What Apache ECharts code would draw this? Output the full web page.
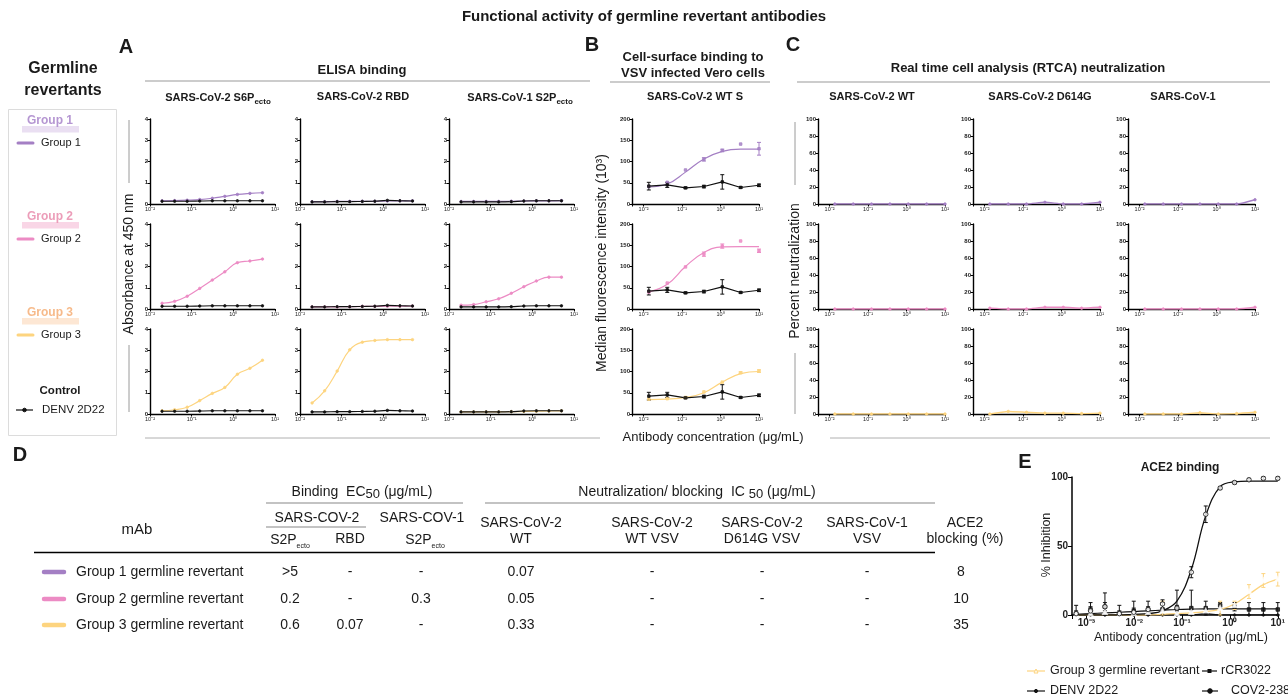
<!DOCTYPE html>
<html><head><meta charset="utf-8">
<script src="https://cdn.jsdelivr.net/npm/echarts@6/dist/echarts.min.js"></script>
<style>html,body{margin:0;padding:0;background:#fff}#c{width:1288px;height:696px}</style>
</head><body><div id="c"></div><script>
// ---------------- DATA ----------------
const logTickLabels = { '-3': '10⁻³', '-2': '10⁻²', '-1': '10⁻¹', '0': '10⁰', '1': '10¹' };

// Panel A: ELISA binding (absorbance at 450 nm), 2-fold dilutions (µg/mL)
const elisaConc = [0.0195, 0.039, 0.078, 0.156, 0.3125, 0.625, 1.25, 2.5, 5];
const elisaG1_S6P  = [0.15, 0.16, 0.18, 0.21, 0.27, 0.36, 0.45, 0.50, 0.53];
const elisaG1_RBD  = [0.11, 0.11, 0.12, 0.12, 0.13, 0.13, 0.14, 0.15, 0.15];
const elisaG1_S2P1 = [0.12, 0.12, 0.12, 0.12, 0.13, 0.14, 0.15, 0.15, 0.16];
const elisaG2_S6P  = [0.27, 0.36, 0.60, 0.97, 1.36, 1.75, 2.18, 2.26, 2.35];
const elisaG2_RBD  = [0.10, 0.10, 0.10, 0.11, 0.12, 0.12, 0.13, 0.13, 0.14];
const elisaG2_S2P1 = [0.18, 0.21, 0.34, 0.48, 0.74, 1.05, 1.32, 1.50, 1.50];
const elisaG3_S6P  = [0.15, 0.20, 0.32, 0.63, 0.97, 1.25, 1.87, 2.15, 2.53];
const elisaG3_RBD  = [0.52, 1.09, 2.02, 3.02, 3.38, 3.46, 3.50, 3.50, 3.50];
const elisaG3_S2P1 = [0.10, 0.10, 0.10, 0.10, 0.11, 0.12, 0.13, 0.14, 0.15];
const elisaCtl_S6P  = [0.13, 0.13, 0.13, 0.14, 0.15, 0.15, 0.15, 0.15, 0.15];
const elisaCtl_RBD  = [0.10, 0.10, 0.11, 0.11, 0.12, 0.13, 0.17, 0.15, 0.14];
const elisaCtl_S2P1 = [0.10, 0.10, 0.10, 0.10, 0.11, 0.14, 0.15, 0.15, 0.15];

// Panel B: cell-surface binding (MFI x10^3), 3-fold dilutions
const vsvConc = [0.0137, 0.0412, 0.123, 0.37, 1.11, 3.33, 10];
const vsvG1    = [41, 51, 80, 105, 126, 141, 130];
const vsvG1Fit = [40, 47, 75, 106, 124, 129, 129];
const vsvG2    = [40, 61, 99, 129, 148, 160, 137];
const vsvG2Fit = [40, 58, 100, 133, 146, 147, 147];
const vsvG3    = [35, 36, 39, 52, 75, 97, 101];
const vsvG3Fit = [34, 35, 39, 50, 75, 95, 100];
const vsvCtl   = [42, 45, 38, 41, 52, 39, 44];
const vsvErrG1  = [0, 0, 0, 4, 3, 0, 15];
const vsvErrG2  = [0, 0, 0, 5, 5, 0, 4];
const vsvErrG3  = [0, 0, 0, 0, 0, 2, 3];
const vsvErrCtl = [9, 6, 2, 3, 17, 2, 3];

// Panel C: RTCA percent neutralization
const rtcaConc = [0.0137, 0.0412, 0.123, 0.37, 1.11, 3.33, 10];
const rtcaG1_WT    = [0, 0, 0, 0, 0, 0, 0];
const rtcaG1_D614G = [0, 0, 0, 2, 0, 0, 2];
const rtcaG1_CoV1  = [0, 0, 0, 0, 0, 0, 5];
const rtcaG2_WT    = [0, 0, 0, 0, 0, 0, 0];
const rtcaG2_D614G = [1, 0, 0, 2, 2, 1, 2];
const rtcaG2_CoV1  = [0, 0, 0, 0, 0, 0, 2];
const rtcaG3_WT    = [0, 0, 0, 0, 0, 0, 0];
const rtcaG3_D614G = [0, 3, 2, 1, 1, 0.5, 1];
const rtcaG3_CoV1  = [0, 0, 0, 1.5, 0, 0.5, 2];

// Panel D: table
const tableRows   = ['Group 1 germline revertant', 'Group 2 germline revertant', 'Group 3 germline revertant'];
const ec50_S2P    = ['>5', '0.2', '0.6'];
const ec50_RBD    = ['-', '-', '0.07'];
const ec50_S2P1   = ['-', '0.3', '-'];
const ic50_WT     = ['0.07', '0.05', '0.33'];
const ic50_WTVSV  = ['-', '-', '-'];
const ic50_D614G  = ['-', '-', '-'];
const ic50_CoV1   = ['-', '-', '-'];
const ace2Block   = ['8', '10', '35'];

// Panel E: ACE2 binding (% inhibition), 2-fold dilutions
const aceConc = [0.00061, 0.00122, 0.00244, 0.00488, 0.00977, 0.0195, 0.039, 0.078, 0.156, 0.3125, 0.625, 1.25, 2.5, 5, 10];
const ace2381    = [1, 3, 6, 1, 2, 4, 8, 5, 31, 73, 92, 96, 98, 99, 99];
const ace2381Fit = [0, 0, 0, 0, 0.5, 1, 3, 10, 33, 72, 93, 96.5, 97, 97, 97];
const ace2381Err = [2, 3, 3, 2, 3, 2, 3, 2, 4, 6, 1, 1, 1, 1, 1];
const aceRCR     = [1, 4, 6, 1, 3, 4, 4, 5, 5, 5, 7, 6, 4, 4, 4];
const aceRCRFit  = [0.5, 1, 1.5, 2, 2.5, 3, 3.5, 4, 4.3, 4.5, 4.5, 4.5, 4.5, 4.5, 4.5];
const aceRCRErr  = [6, 5, 10, 6, 7, 6, 5, 13, 13, 5, 2, 3, 5, 5, 5];
const aceG3      = [0, 1, 2, 0, 1, 2, 3, 1, 2, 3, 5, 7, 17, 25, 26];
const aceG3Fit   = [0, 0, 0, 0, 0, 0, 0.5, 1, 1.5, 2.5, 4, 8, 15, 22, 26];
const aceG3Err   = [0, 0, 0, 0, 0, 0, 7, 0, 0, 0, 5, 3, 5, 5, 5];
const aceDENV    = [0, 0, 0, 0, 0, 0, 0, 0, 0, 1, 0, 0, 0, 0, 0];

// ---------------- STYLE / LAYOUT ----------------
const FONT = '"Liberation Sans", Arial, Helvetica, sans-serif';
const C1 = '#a47fc4', C2 = '#ec8bc4', C3 = '#fdd47f', CK = '#111111';
const grids = [], xAxes = [], yAxes = [], series = [];

function logLabel(v) {
  const e = Math.log10(v), r = Math.round(e);
  return Math.abs(e - r) < 1e-6 ? (logTickLabels[String(r)] || '') : '';
}
function addPanel(left, top, width, height, xmin, xmax, ymax, yint, o = {}) {
  const i = grids.length;
  grids.push({ left, top, width, height });
  const axisLine = { show: true, onZero: false, lineStyle: { color: '#000', width: o.axisW || 1.4 } };
  const axisTick = { show: true, length: o.tickLen || 2.5, lineStyle: { color: '#000', width: 1 } };
  xAxes.push({ type: 'log', logBase: 10, gridIndex: i, min: xmin, max: xmax, axisLine, axisTick,
    splitLine: { show: false }, minorTick: { show: false },
    axisLabel: { fontSize: o.xFont || 5.5, fontWeight: o.bold ? 'bold' : 'normal', fontFamily: FONT, color: '#222', margin: o.xMargin || 2, formatter: logLabel } });
  yAxes.push({ type: 'value', gridIndex: i, min: 0, max: ymax, interval: yint, axisLine, axisTick,
    splitLine: { show: false },
    axisLabel: { fontSize: o.yFont || 6, fontWeight: 'bold', fontFamily: FONT, color: '#222', margin: o.yMargin || 2 } });
  return i;
}
function lineS(idx, xs, ys, color, o = {}) {
  series.push({ type: 'line', xAxisIndex: idx, yAxisIndex: idx, silent: true,
    data: xs.map((x, k) => [x, ys[k]]), smooth: o.smooth === undefined ? 0.35 : o.smooth,
    symbol: o.symbol || 'circle', symbolSize: o.size || 2.5, showSymbol: o.showSymbol === undefined ? true : o.showSymbol,
    lineStyle: { color, width: o.width || 1.2 }, itemStyle: { color: o.fill || color, borderColor: color, borderWidth: 0.8 }, z: o.z || 3 });
}
function scatterS(idx, xs, ys, color, symbol, size, fill) {
  series.push({ type: 'scatter', xAxisIndex: idx, yAxisIndex: idx, silent: true, symbol, symbolSize: size,
    data: xs.map((x, k) => [x, ys[k]]), itemStyle: { color: fill || color, borderColor: color, borderWidth: 1 }, z: 5 });
}
function errS(idx, xs, ys, errs, color) {
  const data = [];
  xs.forEach((x, k) => { if (errs[k] > 0) data.push([x, Math.max(0, ys[k] - errs[k]), ys[k] + errs[k]]); });
  series.push({ type: 'custom', xAxisIndex: idx, yAxisIndex: idx, silent: true, data, z: 4,
    encode: { x: 0, y: [1, 2] },
    renderItem: (p, api) => {
      const x = api.value(0), lo = api.coord([x, api.value(1)]), hi = api.coord([x, api.value(2)]), w = 2;
      const st = { stroke: color, lineWidth: 1 };
      return { type: 'group', children: [
        { type: 'line', shape: { x1: lo[0], y1: lo[1], x2: hi[0], y2: hi[1] }, style: st },
        { type: 'line', shape: { x1: lo[0] - w, y1: lo[1], x2: lo[0] + w, y2: lo[1] }, style: st },
        { type: 'line', shape: { x1: hi[0] - w, y1: hi[1], x2: hi[0] + w, y2: hi[1] }, style: st } ] };
    } });
}

const rowTop = [119, 224, 329], rowH = 85;
const colors = [C1, C2, C3];

// Panel A
const aLeft = [150, 300, 449];
const elisa = [[elisaG1_S6P, elisaG1_RBD, elisaG1_S2P1], [elisaG2_S6P, elisaG2_RBD, elisaG2_S2P1], [elisaG3_S6P, elisaG3_RBD, elisaG3_S2P1]];
const elisaCtl = [elisaCtl_S6P, elisaCtl_RBD, elisaCtl_S2P1];
for (let r = 0; r < 3; r++) for (let c = 0; c < 3; c++) {
  const i = addPanel(aLeft[c], rowTop[r], 125, rowH, 0.01, 10, 4, 1);
  lineS(i, elisaConc, elisa[r][c], colors[r], { size: 2.5, smooth: 0.45 });
  lineS(i, elisaConc, elisaCtl[c], CK, { size: 2.5, width: 1.1, smooth: 0.3 });
}
// Panel B
const vsv = [vsvG1, vsvG2, vsvG3], vsvFit = [vsvG1Fit, vsvG2Fit, vsvG3Fit], vsvErr = [vsvErrG1, vsvErrG2, vsvErrG3];
for (let r = 0; r < 3; r++) {
  const i = addPanel(632, rowTop[r], 127, rowH, 0.005, 10, 200, 50);
  lineS(i, vsvConc, vsvFit[r], colors[r], { showSymbol: false, smooth: 0.45 });
  errS(i, vsvConc, vsv[r], vsvErr[r], colors[r]);
  scatterS(i, vsvConc, vsv[r], colors[r], 'rect', 2.5);
  lineS(i, vsvConc, vsvCtl, CK, { showSymbol: false, width: 1.1, smooth: 0 , symbol: 'none'});
  errS(i, vsvConc, vsvCtl, vsvErrCtl, CK);
  scatterS(i, vsvConc, vsvCtl, CK, 'rect', 2.5);
}
// Panel C
const cLeft = [818, 973, 1128];
const rtca = [[rtcaG1_WT, rtcaG1_D614G, rtcaG1_CoV1], [rtcaG2_WT, rtcaG2_D614G, rtcaG2_CoV1], [rtcaG3_WT, rtcaG3_D614G, rtcaG3_CoV1]];
for (let r = 0; r < 3; r++) for (let c = 0; c < 3; c++) {
  const i = addPanel(cLeft[c], rowTop[r], 127, rowH, 0.005, 10, 100, 20);
  lineS(i, rtcaConc, rtca[r][c], colors[r], { size: 2.5, width: 1.4, smooth: 0.2 });
}
// Panel E
const e = addPanel(1072, 477, 207, 138, 0.0005, 10, 100, 50, { xFont: 10, yFont: 10, bold: true, xMargin: 3, yMargin: 4, tickLen: 4, axisW: 1.5 });
lineS(e, aceConc, aceDENV, CK, { showSymbol: true, size: 2.5, width: 1.2, smooth: 0.2 });
lineS(e, aceConc, aceRCRFit, CK, { showSymbol: false, width: 1.2 });
lineS(e, aceConc, aceG3Fit, C3, { showSymbol: false, width: 1.3 });
lineS(e, aceConc, ace2381Fit, CK, { showSymbol: false, width: 1.3, smooth: 0.4 });
errS(e, aceConc, aceRCR, aceRCRErr, CK);
errS(e, aceConc, aceG3, aceG3Err, C3);
errS(e, aceConc, ace2381, ace2381Err, CK);
scatterS(e, aceConc, aceRCR, CK, 'rect', 3.5);
scatterS(e, aceConc, aceG3, C3, 'emptyTriangle', 3.5, '#fff');
scatterS(e, aceConc, ace2381, CK, 'circle', 4.5, '#fff');

// ---------------- GRAPHIC (text, table, legend) ----------------
const G = [];
function txt(x, y, text, o = {}) {
  const a = o.align || 'center';
  G.push({ type: 'text', x, y, rotation: o.rot || 0, z: 100, silent: true,
    style: { text, fill: o.color || '#1a1a1a', font: o.font || ('12px ' + FONT), align: a, textAlign: a,
      verticalAlign: 'middle', textVerticalAlign: 'middle', rich: o.rich } });
}
function ln(x1, y1, x2, y2, color, w, cap) {
  G.push({ type: 'line', z: 100, silent: true, shape: { x1, y1, x2, y2 }, style: { stroke: color || '#9a9a9a', lineWidth: w || 1, lineCap: cap || 'butt' } });
}
function rc(x, y, w, h, fill, stroke) {
  G.push({ type: 'rect', z: 90, silent: true, shape: { x, y, width: w, height: h }, style: { fill: fill || 'none', stroke: stroke || 'none', lineWidth: 1 } });
}
function dot(x, y, r, fill, stroke) {
  G.push({ type: 'circle', z: 101, silent: true, shape: { cx: x, cy: y, r }, style: { fill, stroke: stroke || fill, lineWidth: 1 } });
}
const B = (s) => 'bold ' + s + 'px ' + FONT, N = (s) => s + 'px ' + FONT;
const subRich = (size, sub, bold, lh) => ({
  b: { fontSize: size, fontWeight: bold ? 'bold' : 'normal', fontFamily: FONT, lineHeight: lh, fill: '#1a1a1a', color: '#1a1a1a' },
  s: { fontSize: sub, fontWeight: bold ? 'bold' : 'normal', fontFamily: FONT, verticalAlign: 'bottom', fill: '#1a1a1a', color: '#1a1a1a' } });

txt(644, 17, 'Functional activity of germline revertant antibodies', { font: B(15) });
txt(63, 69, 'Germline', { font: B(16) });
txt(63, 91, 'revertants', { font: B(16) });
txt(126, 47, 'A', { font: B(20) });
txt(592, 45, 'B', { font: B(20) });
txt(793, 45, 'C', { font: B(20) });
txt(20, 455, 'D', { font: B(20) });
txt(1025, 462, 'E', { font: B(20) });

// headers
txt(362, 70, 'ELISA binding', { font: B(13) });
ln(145, 81, 590, 81, '#9a9a9a', 1.2);
txt(218, 98, '{b|SARS-CoV-2 S6P}{s|ecto}', { rich: subRich(11, 8, true, 16) });
txt(363, 97, 'SARS-CoV-2 RBD', { font: B(11) });
txt(520, 98, '{b|SARS-CoV-1 S2P}{s|ecto}', { rich: subRich(11, 8, true, 16) });
txt(693, 57, 'Cell-surface binding to', { font: B(13) });
txt(693, 73, 'VSV infected Vero cells', { font: B(13) });
ln(610, 82, 770, 82, '#9a9a9a', 1.2);
txt(695, 97, 'SARS-CoV-2 WT S', { font: B(11) });
txt(1028, 68, 'Real time cell analysis (RTCA) neutralization', { font: B(13) });
ln(797, 82, 1270, 82, '#9a9a9a', 1.2);
txt(872, 97, 'SARS-CoV-2 WT', { font: B(11) });
txt(1040, 97, 'SARS-CoV-2 D614G', { font: B(11) });
txt(1183, 97, 'SARS-CoV-1', { font: B(11) });

// axis titles
txt(129, 264, 'Absorbance at 450 nm', { font: N(14), rot: Math.PI / 2 });
ln(129, 120, 129, 183); ln(129, 345, 129, 412);
txt(602, 263, 'Median fluorescence intensity (10³)', { font: N(14), rot: Math.PI / 2 });
txt(795, 271, 'Percent neutralization', { font: N(14), rot: Math.PI / 2 });
ln(795, 122, 795, 185); ln(795, 353, 795, 414);
txt(713, 437, 'Antibody concentration (μg/mL)', { font: N(13) });
ln(145, 438, 600, 438, '#b0b0b0'); ln(830, 438, 1270, 438, '#b0b0b0');

// left legend box
rc(8.5, 109.5, 108, 326, 'none', '#dcdcdc');
const legY = [[121, 126, 143], [217, 222, 239], [313, 318, 335]];
const legTitleCol = ['#b596d2', '#ec9db9', '#f7ba8a'];
const legBarCol = ['#eadff2', '#f9d6e6', '#fde7d4'];
for (let g = 0; g < 3; g++) {
  rc(22, legY[g][1], 57, 6.5, legBarCol[g]);
  txt(50, legY[g][0], 'Group ' + (g + 1), { font: B(12), color: legTitleCol[g] });
  ln(18, legY[g][2], 33, legY[g][2], colors[g], 3, 'round');
  txt(41, legY[g][2], 'Group ' + (g + 1), { font: N(11), align: 'left' });
}
txt(60, 391, 'Control', { font: B(11.5) });
ln(16, 410, 33, 410, CK, 1.2); dot(24.5, 410, 1.8, CK);
txt(42, 410, 'DENV 2D22', { font: N(11.5), align: 'left' });

// table D
txt(362, 492, '{b|Binding  EC}{s|50}{b| (μg/mL)}', { rich: subRich(14, 13, false, 18) });
ln(266, 503, 463, 503, '#888', 1.2);
txt(697, 492, '{b|Neutralization/ blocking  IC }{s|50}{b| (μg/mL)}', { rich: subRich(14, 13, false, 18) });
ln(485, 503, 935, 503, '#888', 1.2);
txt(317, 518, 'SARS-COV-2', { font: N(14) });
ln(266, 527, 366, 527, '#888', 1.2);
txt(422, 518, 'SARS-COV-1', { font: N(14) });
txt(137, 530, 'mAb', { font: N(15) });
txt(290, 540, '{b|S2P}{s|ecto}', { rich: subRich(14, 7, false, 20) });
txt(350, 539, 'RBD', { font: N(14) });
txt(425, 540, '{b|S2P}{s|ecto}', { rich: subRich(14, 7, false, 20) });
const hdrX = [521, 652, 762, 867, 965];
const hdr1 = ['SARS-CoV-2', 'SARS-CoV-2', 'SARS-CoV-2', 'SARS-CoV-1', 'ACE2'];
const hdr2 = ['WT', 'WT VSV', 'D614G VSV', 'VSV', 'blocking (%)'];
hdrX.forEach((x, k) => { txt(x, 523, hdr1[k], { font: N(14) }); txt(x, 539, hdr2[k], { font: N(14) }); });
ln(34, 552.5, 935, 552.5, '#000', 1.5);
const rowY = [572, 599, 625];
const valCols = [ec50_S2P, ec50_RBD, ec50_S2P1, ic50_WT, ic50_WTVSV, ic50_D614G, ic50_CoV1, ace2Block];
const valX = [290, 350, 421, 521, 652, 762, 867, 961];
tableRows.forEach((name, r) => {
  ln(44, rowY[r], 64, rowY[r], colors[r], 4.5, 'round');
  txt(76, rowY[r], name, { font: N(14), align: 'left' });
  valCols.forEach((col, c) => txt(valX[c], rowY[r], col[r], { font: N(14) }));
});

// panel E texts & legend
txt(1180, 468, 'ACE2 binding', { font: B(12) });
txt(1047, 545, '% Inhibition', { font: N(12.5), rot: Math.PI / 2 });
txt(1181, 638, 'Antibody concentration (μg/mL)', { font: N(12.5) });
ln(1027, 671, 1045, 671, C3, 1.2); G.push({ type: 'polygon', z: 101, silent: true, shape: { points: [[1036, 669], [1038, 673], [1034, 673]] }, style: { fill: '#fff', stroke: C3 } });
txt(1050, 671, 'Group 3 germline revertant', { font: N(12.5), align: 'left' });
ln(1202, 671, 1217, 671, CK, 1.2); rc(1207.5, 669, 4, 4, CK);
txt(1221, 671, 'rCR3022', { font: N(12.5), align: 'left' });
ln(1027, 691, 1045, 691, CK, 1.2); dot(1036, 691, 1.6, CK);
txt(1050, 691, 'DENV 2D22', { font: N(12.5), align: 'left' });
ln(1202, 691, 1218, 691, CK, 1.2); dot(1210, 691, 2.3, CK);
txt(1231, 691, 'COV2-2381', { font: N(12.5), align: 'left' });

const chart = echarts.init(document.getElementById('c'), null, { renderer: 'canvas', width: 1288, height: 696 });
chart.setOption({ backgroundColor: '#fff', animation: false, grid: grids, xAxis: xAxes, yAxis: yAxes, series, graphic: G });
</script></body></html>
